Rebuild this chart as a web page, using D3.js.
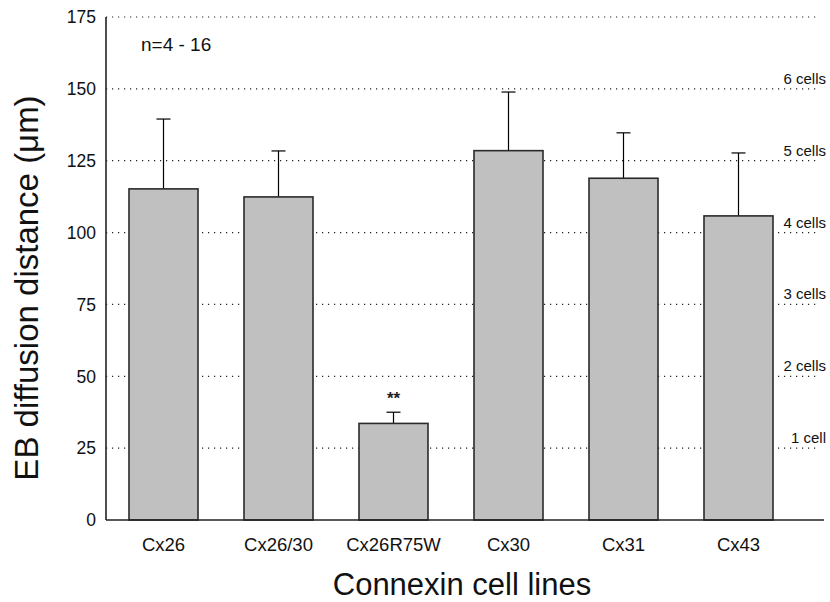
<!DOCTYPE html>
<html>
<head>
<meta charset="utf-8">
<script src="https://cdn.jsdelivr.net/npm/d3@7"></script>
<style>
  body { margin: 0; background: #fff; }
  svg { display: block; font-family: "Liberation Sans", Arial, Helvetica, sans-serif; }
</style>
</head>
<body>
<svg id="chart" width="830" height="602"></svg>
<script>
const categories = ["Cx26", "Cx26/30", "Cx26R75W", "Cx30", "Cx31", "Cx43"];
const means = [115.2, 112.4, 33.6, 128.5, 118.9, 105.8];
const errors = [24.3, 16.0, 3.9, 20.4, 15.8, 21.9];
const significance = ["", "", "**", "", "", ""];
const yTicks = [0, 25, 50, 75, 100, 125, 150, 175];
const cellLevels = [25, 50, 75, 100, 125, 150];
const cellLabels = ["1 cell", "2 cells", "3 cells", "4 cells", "5 cells", "6 cells"];

const svg = d3.select("#chart");
const x0 = 106, xEnd = 824, gridEnd = 819;
const yTop = 17, yBottom = 520;

const x = d3.scaleBand().domain(categories).range([106, 796]).paddingInner(0.4).paddingOuter(0.2);
const y = d3.scaleLinear().domain([0, 175]).range([yBottom, yTop]);

// gridlines
svg.append("g").selectAll("line").data(yTicks.filter(d => d > 0)).join("line")
  .attr("x1", x0).attr("x2", gridEnd)
  .attr("y1", d => y(d)).attr("y2", d => y(d))
  .attr("stroke", "#222").attr("stroke-width", 1.2)
  .attr("stroke-dasharray", "1.2,4.8");

// cell labels
svg.append("g").selectAll("text").data(cellLevels).join("text")
  .attr("x", 826).attr("y", d => y(d) - 5)
  .attr("text-anchor", "end").attr("font-size", 15).attr("fill", "#111")
  .text((d, i) => cellLabels[i]);

// error bars
const eb = svg.append("g");
categories.forEach((c, i) => {
  const cx = x(c) + x.bandwidth() / 2;
  eb.append("line").attr("x1", cx).attr("x2", cx)
    .attr("y1", y(means[i])).attr("y2", y(means[i] + errors[i]))
    .attr("stroke", "#000").attr("stroke-width", 1.2);
  eb.append("line").attr("x1", cx - 7).attr("x2", cx + 7)
    .attr("y1", y(means[i] + errors[i])).attr("y2", y(means[i] + errors[i]))
    .attr("stroke", "#000").attr("stroke-width", 1.2);
  if (significance[i]) {
    eb.append("text").attr("x", cx).attr("y", y(means[i] + errors[i]) - 8)
      .attr("text-anchor", "middle").attr("font-size", 17).attr("font-weight", "bold")
      .attr("fill", "#222").text(significance[i]);
  }
});

// bars
svg.append("g").selectAll("rect").data(categories).join("rect")
  .attr("x", d => x(d)).attr("width", x.bandwidth())
  .attr("y", (d, i) => y(means[i])).attr("height", (d, i) => yBottom - y(means[i]))
  .attr("fill", "#c0c0c0").attr("stroke", "#2a2a2a").attr("stroke-width", 1.6);

// axes lines
svg.append("line").attr("x1", x0).attr("x2", x0).attr("y1", yTop).attr("y2", yBottom)
  .attr("stroke", "#222").attr("stroke-width", 1.6);
svg.append("line").attr("x1", x0).attr("x2", xEnd).attr("y1", yBottom).attr("y2", yBottom)
  .attr("stroke", "#222").attr("stroke-width", 1.6);

// y tick labels
svg.append("g").selectAll("text").data(yTicks).join("text")
  .attr("x", 96).attr("y", d => y(d)).attr("dy", "0.36em")
  .attr("text-anchor", "end").attr("font-size", 17.5).attr("fill", "#111")
  .text(d => d);

// x tick labels
svg.append("g").selectAll("text").data(categories).join("text")
  .attr("x", d => x(d) + x.bandwidth() / 2).attr("y", 551)
  .attr("text-anchor", "middle").attr("font-size", 18.5).attr("fill", "#111")
  .text(d => d);

// annotation
svg.append("text").attr("x", 141).attr("y", 51).attr("font-size", 19).attr("fill", "#111").text("n=4 - 16");

// axis titles
svg.append("text").attr("x", 462).attr("y", 595).attr("text-anchor", "middle")
  .attr("font-size", 31).attr("fill", "#111").text("Connexin cell lines");
svg.append("text").attr("transform", "translate(38,288) rotate(-90)").attr("text-anchor", "middle")
  .attr("font-size", 33).attr("fill", "#111").text("EB diffusion distance (μm)");
</script>
</body>
</html>
